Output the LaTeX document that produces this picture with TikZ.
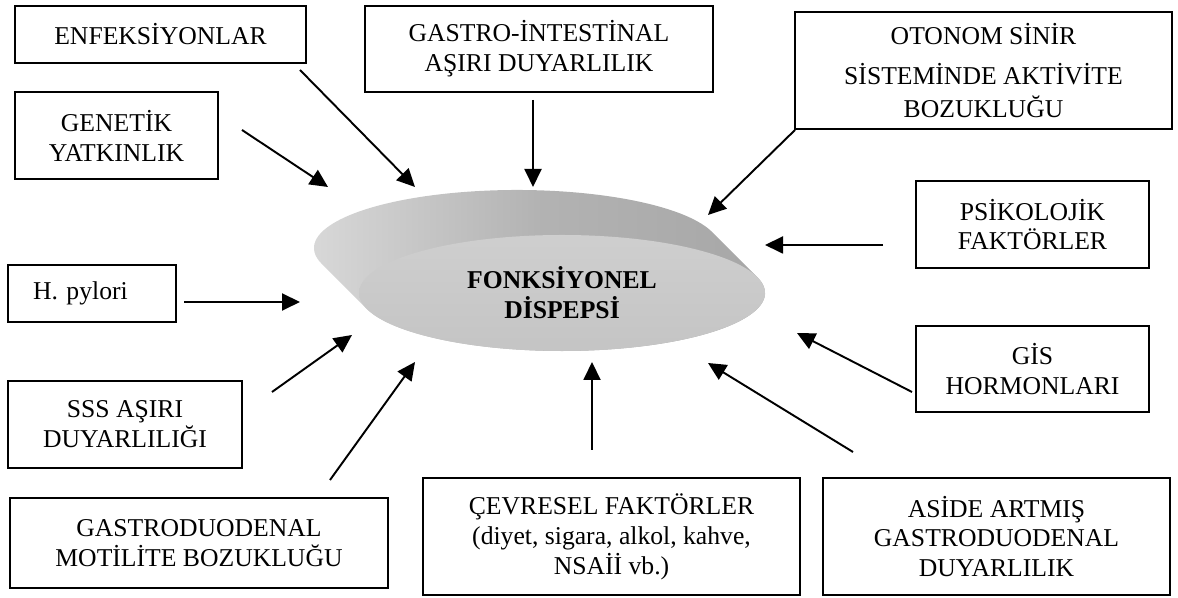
\documentclass[tikz,border=0pt]{standalone}
\usepackage{fontspec}
\setmainfont{Liberation Serif}
\usetikzlibrary{arrows.meta,shapes.geometric}
\tikzset{
	box/.style={draw, line width=0.9pt, align=center, inner sep=0pt, font=\fontsize{14.6}{17}\selectfont},
	arr/.style={line width=1.1pt, -{Triangle[length=0.36cm, width=0.34cm]}}
}

\begin{document}
\begin{tikzpicture}
			%%%%% START %%%%%
			\useasboundingbox (0,0) rectangle (23.56,11.96);
			
			\shade[shift={(10.34,7.00)}, left color=gray!28, right color=gray!70, middle color=gray!60]
				(15.94:4.06 and 1.16) arc[start angle=15.94, end angle=195.94, x radius=4.06, y radius=1.16]
				-- ++(0.9,-0.9) arc[start angle=195.94, end angle=375.94, x radius=4.06, y radius=1.16] -- cycle;
			\node[ellipse, minimum width=8.12cm, minimum height=2.32cm, inner sep=0pt, top color=gray!38, bottom color=gray!46, align=center, font=\bfseries\fontsize{14.6}{17}\selectfont] (disc) at (11.24,6.10) {FONKSİYONEL\\DİSPEPSİ};
			
			\node[box, minimum width=5.82cm, minimum height=1.14cm] (enf) at (3.21,11.27) {ENFEKSİYONLAR};
			\node[box, minimum width=4.06cm, minimum height=1.74cm] (gen) at (2.33,9.25) {GENETİK\\YATKINLIK};
			\node[box, minimum width=6.96cm, minimum height=1.72cm] (gast) at (10.78,10.98) {GASTRO-İNTESTİNAL\\AŞIRI DUYARLILIK};
			\node[box, minimum width=7.54cm, minimum height=2.34cm] (oto) at (19.67,10.55) {OTONOM SİNİR\\[0.2cm]SİSTEMİNDE AKTİVİTE\\[0.05cm]BOZUKLUĞU};
			\node[box, minimum width=4.66cm, minimum height=1.74cm] (psi) at (20.65,7.47) {PSİKOLOJİK\\FAKTÖRLER};
			\node[box, minimum width=3.36cm, minimum height=1.14cm, inner xsep=0.5cm, text width=2.36cm, align=left] (hp) at (1.84,6.09) {H. pylori};
			\node[box, minimum width=4.68cm, minimum height=1.74cm] (sss) at (2.50,3.47) {SSS AŞIRI\\DUYARLILIĞI};
			\node[box, minimum width=7.56cm, minimum height=1.80cm] (mot) at (3.98,1.10) {GASTRODUODENAL\\MOTİLİTE BOZUKLUĞU};
			\node[box, minimum width=4.66cm, minimum height=1.72cm] (hor) at (20.65,4.58) {GİS\\HORMONLARI};
			\node[box, minimum width=7.54cm, minimum height=2.34cm] (cev) at (12.23,1.23) {ÇEVRESEL FAKTÖRLER\\(diyet, sigara, alkol, kahve,\\NSAİİ vb.)};
			\node[box, minimum width=6.94cm, minimum height=2.34cm] (asi) at (19.93,1.23) {ASİDE ARTMIŞ\\GASTRODUODENAL\\DUYARLILIK};
			
			\coordinate (enf-a) at (6.00,10.56);
			\coordinate (enf-b) at (8.30,8.22);
			\coordinate (gen-a) at (4.84,9.36);
			\coordinate (gen-b) at (6.56,8.22);
			\coordinate (gast-a) at (10.66,9.96);
			\coordinate (gast-b) at (10.66,8.22);
			\coordinate (oto-a) at (15.90,9.36);
			\coordinate (oto-b) at (14.16,7.66);
			\coordinate (psi-a) at (17.66,7.06);
			\coordinate (psi-b) at (15.30,7.06);
			\coordinate (hp-a) at (3.68,5.92);
			\coordinate (hp-b) at (6.00,5.92);
			\coordinate (sss-a) at (5.44,4.12);
			\coordinate (sss-b) at (7.04,5.26);
			\coordinate (mot-a) at (6.60,2.36);
			\coordinate (mot-b) at (8.30,4.72);
			\coordinate (cev-a) at (11.84,2.96);
			\coordinate (cev-b) at (11.84,4.72);
			\coordinate (asi-a) at (17.06,2.92);
			\coordinate (asi-b) at (14.16,4.70);
			\coordinate (hor-a) at (18.24,4.12);
			\coordinate (hor-b) at (15.94,5.30);
			
			\draw[arr] (enf-a) -- (enf-b);
			\draw[arr] (gen-a) -- (gen-b);
			\draw[arr] (gast-a) -- (gast-b);
			\draw[arr] (oto-a) -- (oto-b);
			\draw[arr] (psi-a) -- (psi-b);
			\draw[arr] (hp-a) -- (hp-b);
			\draw[arr] (sss-a) -- (sss-b);
			\draw[arr] (mot-a) -- (mot-b);
			\draw[arr] (cev-a) -- (cev-b);
			\draw[arr] (asi-a) -- (asi-b);
			\draw[arr] (hor-a) -- (hor-b);
			%%%%% END %%%%%
\end{tikzpicture}
\end{document}
